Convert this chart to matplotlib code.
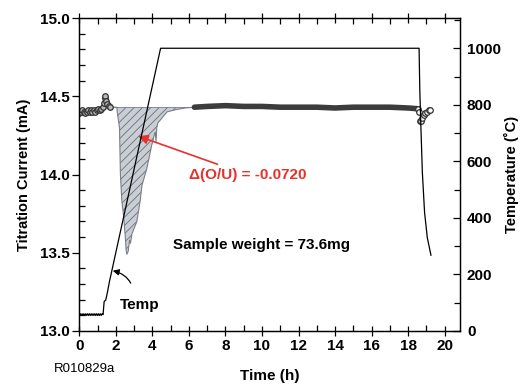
import matplotlib
matplotlib.use("Agg")
import matplotlib.pyplot as plt
from matplotlib.ticker import MultipleLocator

plt.rcParams['font.family'] = ['Liberation Sans', 'DejaVu Sans']
plt.rcParams['hatch.linewidth'] = 0.6

# titration current, start (open circles)
t_start = [0.0, 0.08, 0.16, 0.24, 0.32, 0.4, 0.48, 0.56, 0.64, 0.72, 0.8, 0.88,
           0.96, 1.04, 1.12, 1.2, 1.28, 1.33, 1.38, 1.42, 1.47, 1.52, 1.6, 1.7]
cur_start = [14.39, 14.40, 14.41, 14.40, 14.39, 14.40, 14.41, 14.40, 14.41, 14.40,
             14.41, 14.40, 14.41, 14.42, 14.41, 14.42, 14.43, 14.46, 14.49, 14.50,
             14.47, 14.45, 14.44, 14.43]

# titration current, dip (hatched area)
t_dip = [1.7, 2.05, 2.1, 2.2, 2.25, 2.33, 2.42, 2.52, 2.56, 2.6, 2.68, 2.75, 2.8,
         2.88, 3.15, 3.33, 3.43, 3.7, 3.97, 4.12, 4.16, 4.2, 4.24, 4.3, 4.52, 4.8,
         5.3, 5.8, 6.3]
cur_dip = [14.43, 14.43, 14.38, 14.30, 14.00, 13.83, 13.74, 13.60, 13.52, 13.49,
           13.51, 13.58, 13.56, 13.62, 13.70, 13.83, 13.93, 14.04, 14.19, 14.26,
           14.27, 14.21, 14.30, 14.33, 14.36, 14.40, 14.415, 14.425, 14.43]
baseline = 14.43

# titration current, plateau and end
t_plat = [6.3, 7.0, 8.0, 9.0, 10.0, 11.0, 12.0, 13.0, 14.0, 15.0, 16.0, 17.0,
          18.0, 18.55]
cur_plat = [14.43, 14.435, 14.44, 14.435, 14.435, 14.43, 14.43, 14.43, 14.425,
            14.43, 14.43, 14.43, 14.425, 14.42]
t_end = [18.55, 18.6, 18.63, 18.68, 18.75, 18.85, 18.95, 19.05, 19.15, 19.22]
cur_end = [14.42, 14.40, 14.34, 14.34, 14.36, 14.38, 14.39, 14.40, 14.41, 14.41]

# temperature
t_temp = [0.0, 0.05, 0.1, 0.15, 0.2, 0.25, 0.3, 0.35, 0.4, 0.45, 0.5, 0.55, 0.6,
          0.65, 0.7, 0.75, 0.8, 0.85, 0.9, 0.95, 1.0, 1.05, 1.1, 1.15, 1.2, 1.25,
          1.3, 1.36, 1.45, 1.55, 1.65, 1.73, 4.45, 18.6, 18.64, 18.7, 18.78, 18.9,
          19.05, 19.25]
temp = [55, 61, 55, 61, 55, 61, 55, 61, 55, 61, 55, 61, 55, 61, 55, 61, 55, 61,
        55, 61, 55, 61, 55, 61, 55, 61, 58, 104, 110, 140, 175, 198, 1000, 1000,
        850, 720, 560, 420, 330, 268]

fig = plt.figure(figsize=(5.22, 3.86), dpi=100)
ax = fig.add_axes([79.3 / 522, 1 - 331 / 386, (460 - 79.3) / 522, (331 - 18) / 386])
ax2 = ax.twinx()

ax.fill_between(t_dip, cur_dip, baseline, facecolor='#c9cdd4', edgecolor='#6b7079',
                hatch='////', linewidth=0, zorder=2)
ax.plot(t_dip, cur_dip, color='#7b7f86', lw=0.8, zorder=3)
ax.plot([t_dip[0], t_dip[-1]], [baseline, baseline], color='#7b7f86', lw=0.6, zorder=3)
ax.plot(t_plat, cur_plat, color='#3c3c3c', lw=4.0, solid_capstyle='round', zorder=4)
ax.plot(t_start, cur_start, ls='none', marker='o', ms=4, mfc='#b8b8b8',
        mec='#333333', mew=0.9, zorder=4)
ax.plot(t_end, cur_end, ls='none', marker='o', ms=4, mfc='white',
        mec='#333333', mew=0.9, zorder=4)

ax2.plot(t_temp, temp, color='black', lw=0.9)

ax.set_xlim(0, 20.84)
ax.set_ylim(13.0, 15.0)
ax2.set_ylim(0, 1107)

ax.xaxis.set_major_locator(MultipleLocator(2))
ax.xaxis.set_minor_locator(MultipleLocator(1))
ax.yaxis.set_major_locator(MultipleLocator(0.5))
ax.yaxis.set_minor_locator(MultipleLocator(0.1))
ax2.yaxis.set_major_locator(MultipleLocator(200))
ax2.yaxis.set_minor_locator(MultipleLocator(100))

ax.set_yticks([13.0, 13.5, 14.0, 14.5, 15.0])
ax.set_yticklabels(['13.0', '13.5', '14.0', '14.5', '15.0'])

ax.tick_params(axis='x', which='major', direction='inout', length=7, width=0.9,
               top=True, labelsize=11, pad=2)
ax.tick_params(axis='x', which='minor', direction='in', length=4, width=0.9, top=True)
ax.tick_params(axis='y', which='major', direction='out', length=5, width=0.9,
               labelsize=11, pad=2)
ax.tick_params(axis='y', which='minor', direction='in', length=4, width=0.9)
ax2.tick_params(axis='y', which='major', direction='in', length=5, width=0.9,
                labelsize=11, pad=5)
ax2.tick_params(axis='y', which='minor', direction='in', length=4, width=0.9)
for lab in ax.get_xticklabels() + ax.get_yticklabels() + ax2.get_yticklabels():
    lab.set_fontweight('bold')

for a in (ax, ax2):
    for s in a.spines.values():
        s.set_linewidth(0.9)

ax.set_xlabel('Time (h)', fontsize=11, fontweight='bold', labelpad=12)
ax.set_ylabel('Titration Current (mA)', fontsize=10.5, fontweight='bold', labelpad=6)
ax2.set_ylabel('Temperature (˚C)', fontsize=10.5, fontweight='bold', labelpad=2)

ax.annotate('Δ(O/U) = -0.0720', xy=(3.23, 14.245), xytext=(6.0, 13.997),
            color='#e8312b', fontsize=11, fontweight='bold', va='center', ha='left',
            arrowprops=dict(arrowstyle='-|>', color='#e8312b', lw=1.2,
                            mutation_scale=14, shrinkA=2, shrinkB=0))
ax.text(5.13, 13.547, 'Sample weight = 73.6mg', fontsize=11, fontweight='bold',
        va='center', ha='left')
ax.annotate('Temp', xy=(1.83, 13.385), xytext=(2.23, 13.166), fontsize=11,
            fontweight='bold', va='center', ha='left',
            arrowprops=dict(arrowstyle='-|>', color='black', lw=0.9,
                            mutation_scale=9, shrinkA=9, shrinkB=0,
                            connectionstyle='arc3,rad=0.4', relpos=(0.35, 1.0)))

fig.text(54 / 522, 1 - 369 / 386, 'R010829a', fontsize=9.5, va='center', ha='left')

fig.savefig('out.png', dpi=100)
